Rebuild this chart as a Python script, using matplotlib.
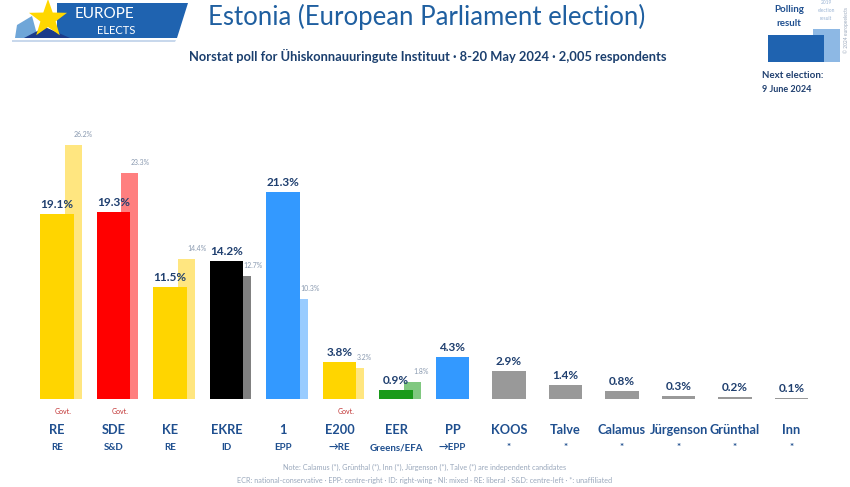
import matplotlib
matplotlib.use("Agg")
import matplotlib.pyplot as plt
from matplotlib.patches import Polygon, Rectangle
import numpy as np

plt.rcParams['font.family'] = ['Lato', 'DejaVu Sans']

# ---- data ----
parties = ["RE", "SDE", "KE", "EKRE", "1", "E200", "EER", "PP", "KOOS", "Talve",
           "Calamus", "Jürgenson", "Grünthal", "Inn"]
groups = ["RE", "S&D", "RE", "ID", "EPP", "\u2192RE", "Greens/EFA", "\u2192EPP",
          "*", "*", "*", "*", "*", "*"]
poll = [19.1, 19.3, 11.5, 14.2, 21.3, 3.8, 0.9, 4.3, 2.9, 1.4, 0.8, 0.3, 0.2, 0.1]
prev = [26.2, 23.3, 14.4, 12.7, 10.3, 3.2, 1.8, None, None, None, None, None, None, None]
govt = [True, True, False, False, False, True, False, False, False, False, False, False, False, False]
colors = ["#FFD500", "#FF0000", "#FFD500", "#000000", "#3399FF", "#FFD500", "#1A9A1A",
          "#3399FF", "#999999", "#999999", "#999999", "#999999", "#999999", "#999999"]
prev_colors = ["#FFE680", "#FF7F7F", "#FFE680", "#808080", "#99CCFF", "#FFE680", "#80C880",
               None, None, None, None, None, None, None]

W, H = 850, 487
fig = plt.figure(figsize=(W / 100, H / 100), dpi=100)
fig.patch.set_facecolor("white")

# axes geometry in pixels
x0_px, step_px = 57, 56.5
base_px = 399          # baseline from top
top_px = 129
ax = fig.add_axes([0, (H - base_px) / H, 1, (base_px - top_px) / H])
ax.set_xlim(-x0_px / step_px, (W - x0_px) / step_px)
ymax = (base_px - top_px) / 9.7
ax.set_ylim(0, ymax)
ax.axis("off")

x = np.arange(len(parties))
navy = "#1F4F8F"
for i in range(len(parties)):
    if prev[i] is not None:
        ax.bar(x[i] + 0.29, prev[i], width=0.30, color=prev_colors[i], zorder=1)
        ax.annotate(f"{prev[i]:.1f}%", (x[i] + 0.30, prev[i]), xytext=(0, 5),
                    textcoords="offset points", fontsize=5, color="#8A9AB0",
                    ha="left", va="bottom")
    ax.bar(x[i], poll[i], width=0.60, color=colors[i], zorder=2)
    ax.annotate(f"{poll[i]:.1f}%", (x[i], poll[i]), xytext=(0, 3),
                textcoords="offset points", fontsize=8.5, color="#1F3F6F",
                ha="center", va="bottom", fontweight="bold", zorder=3)

tr = ax.get_xaxis_transform()
span = base_px - top_px
for i in range(len(parties)):
    if govt[i]:
        ax.text(x[i] + 0.11, -(412 - base_px) / span, "Govt.", transform=tr, fontsize=5,
                color="#C03030", ha="center", va="center")
    ax.text(x[i], -(430 - base_px) / span, parties[i], transform=tr,
            fontsize=9.2, color=navy, ha="center", va="center", fontweight="bold")
    ax.text(x[i], -(448 - base_px) / span, groups[i], transform=tr,
            fontsize=7, color=navy, ha="center", va="center", fontweight="bold")

# notes
fig.text(425 / W, 1 - 467 / H,
         "Note: Calamus (*), Grünthal (*), Inn (*), Jürgenson (*), Talve (*) are independent candidates",
         fontsize=5.2, color="#9AA8BC", ha="center", va="center")
fig.text(425 / W, 1 - 481 / H,
         "ECR: national-conservative · EPP: centre-right · ID: right-wing · NI: mixed · RE: liberal · S&D: centre-left · *: unaffiliated",
         fontsize=5.2, color="#9AA8BC", ha="center", va="center")

# title & subtitle
fig.text(427 / W, 1 - 17 / H, "Estonia (European Parliament election)", fontsize=18.5,
         color="#1F5FA0", ha="center", va="center")
fig.text(428 / W, 1 - 56 / H,
         "Norstat poll for Ühiskonnauuringute Instituut · 8-20 May 2024 · 2,005 respondents",
         fontsize=9.3, color="#1B3F6E", ha="center", va="center", fontweight="bold")

# logo
def P(px, py):
    return (px / W, 1 - py / H)

fig.patches.append(Polygon([P(57, 3), P(188, 3), P(177, 38), P(57, 38)], closed=True,
                           facecolor="#1F63B0", edgecolor="none", transform=fig.transFigure))
fig.patches.append(Polygon([P(12, 40), P(176, 40), P(175, 42), P(12, 42)], closed=True,
                           facecolor="#C8D8EC", edgecolor="none", transform=fig.transFigure))
fig.patches.append(Polygon([P(17, 25), P(32, 16), P(38, 38), P(15, 38)], closed=True,
                           facecolor="#6FA6D8", edgecolor="none", transform=fig.transFigure))
fig.patches.append(Polygon([P(24, 38), P(45, 27), P(70, 38)], closed=True,
                           facecolor="#1B3B8A", edgecolor="none", transform=fig.transFigure))
# star
cx, cy, r1, r2 = 48, 19, 20, 8
pts = []
for k in range(10):
    ang = np.pi / 2 + k * np.pi / 5
    r = r1 if k % 2 == 0 else r2
    pts.append(P(cx + r * np.cos(ang), cy - r * np.sin(ang)))
fig.patches.append(Polygon(pts, closed=True, facecolor="#FFD700", edgecolor="none",
                           transform=fig.transFigure))
fig.text(104 / W, 1 - 14 / H, "EUROPE", fontsize=11, color="white", ha="center", va="center")
fig.text(116 / W, 1 - 31 / H, "ELECTS", fontsize=8, color="white", ha="center", va="center")

# legend top right
fig.patches.append(Rectangle(P(813, 62), 27 / W, 33 / H, facecolor="#8DB8E4",
                             edgecolor="none", transform=fig.transFigure))
fig.patches.append(Rectangle(P(768, 62), 56 / W, 27 / H, facecolor="#1F63B0",
                             edgecolor="none", transform=fig.transFigure))
fig.text(789 / W, 1 - 10 / H, "Polling", fontsize=7, color="#1F4F8F", ha="center",
         va="center", fontweight="bold")
fig.text(789 / W, 1 - 24 / H, "result", fontsize=7, color="#1F4F8F", ha="center",
         va="center", fontweight="bold")
fig.text(826 / W, 1 - 3 / H, "2019", fontsize=3.5, color="#9AB4D4", ha="center", va="center")
fig.text(826 / W, 1 - 11 / H, "election", fontsize=3.5, color="#9AB4D4", ha="center", va="center")
fig.text(826 / W, 1 - 19 / H, "result", fontsize=3.5, color="#9AB4D4", ha="center", va="center")
fig.text(762 / W, 1 - 75 / H, "Next election:", fontsize=7, color="#1F3F6F", ha="left",
         va="center", fontweight="bold")
fig.text(762 / W, 1 - 89 / H, "9 June 2024", fontsize=6.5, color="#1F3F6F", ha="left",
         va="center", fontweight="bold")
fig.text(846 / W, 1 - 30 / H, "© 2024 europeelects", fontsize=3.5, color="#9AA8BC",
         ha="center", va="center", rotation=90)

fig.savefig("out.png", dpi=100, facecolor="white")
